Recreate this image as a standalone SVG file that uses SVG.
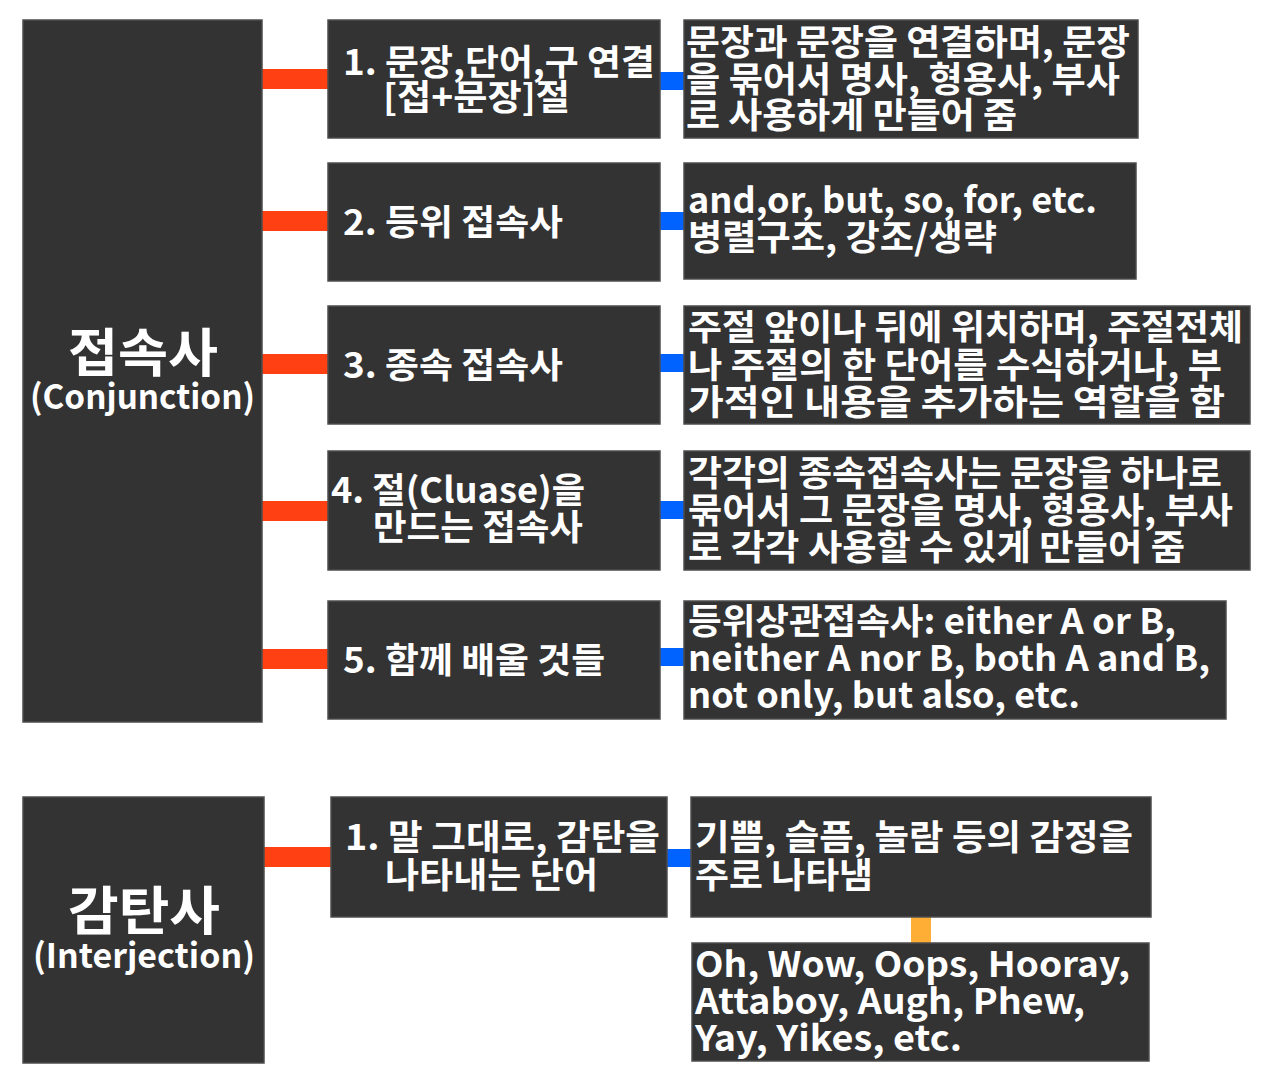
<svg xmlns="http://www.w3.org/2000/svg" width="1280" height="1091" viewBox="0 0 1280 1091">
<style>
.box{fill:#333333;stroke:#4d4d4d;stroke-width:1.5}
.red{fill:#ff4013}
.blue{fill:#0062ff}
.org{fill:#ffae35}
text{font-family:"Noto Sans CJK KR","Noto Sans",sans-serif;font-weight:700;fill:#ffffff}
.t{font-size:35px}
.h{font-size:52px}
.s{font-size:34px}
</style>
<rect width="1280" height="1091" fill="#ffffff"/>
<g id="connectors">
<rect class="red" x="262" y="69" width="66" height="20"/>
<rect class="red" x="262" y="211" width="66" height="20"/>
<rect class="red" x="262" y="354" width="66" height="20"/>
<rect class="red" x="262" y="501" width="66" height="20"/>
<rect class="red" x="262" y="649" width="66" height="20"/>
<rect class="blue" x="660" y="72" width="24" height="18"/>
<rect class="blue" x="660" y="212" width="24" height="18"/>
<rect class="blue" x="660" y="354" width="24" height="18"/>
<rect class="blue" x="660" y="501" width="24" height="18"/>
<rect class="blue" x="660" y="648" width="24" height="18"/>
<rect class="red" x="264" y="847" width="67" height="20"/>
<rect class="blue" x="667" y="849" width="24" height="18"/>
<rect class="org" x="911" y="917" width="20" height="26"/>
</g>
<g id="conjunction">
<rect class="box" x="23" y="20" width="239" height="702"/>
<text class="h" x="68" y="372" textLength="150" lengthAdjust="spacingAndGlyphs">접속사</text>
<text class="s" x="30" y="409" textLength="225" lengthAdjust="spacingAndGlyphs">(Conjunction)</text>
</g>
<g id="c1">
<rect class="box" x="328" y="20" width="332" height="118"/>
<text class="t" x="343" y="75" textLength="312" lengthAdjust="spacingAndGlyphs">1. 문장,단어,구 연결</text>
<text class="t" x="383" y="110" textLength="187" lengthAdjust="spacingAndGlyphs">[접+문장]절</text>
</g>
<g id="c1d">
<rect class="box" x="684" y="20" width="454" height="118"/>
<text class="t" x="686" y="55" textLength="444" lengthAdjust="spacingAndGlyphs">문장과 문장을 연결하며, 문장</text>
<text class="t" x="686" y="92" textLength="434" lengthAdjust="spacingAndGlyphs">을 묶어서 명사, 형용사, 부사</text>
<text class="t" x="686" y="128" textLength="331" lengthAdjust="spacingAndGlyphs">로 사용하게 만들어 줌</text>
</g>
<g id="c2">
<rect class="box" x="328" y="163" width="332" height="118"/>
<text class="t" x="343" y="235" textLength="220" lengthAdjust="spacingAndGlyphs">2. 등위 접속사</text>
</g>
<g id="c2d">
<rect class="box" x="684" y="163" width="452" height="116"/>
<text class="t" x="688" y="213" textLength="409" lengthAdjust="spacingAndGlyphs">and,or, but, so, for, etc.</text>
<text class="t" x="688" y="250" textLength="309" lengthAdjust="spacingAndGlyphs">병렬구조, 강조/생략</text>
</g>
<g id="c3">
<rect class="box" x="328" y="306" width="332" height="118"/>
<text class="t" x="343" y="378" textLength="220" lengthAdjust="spacingAndGlyphs">3. 종속 접속사</text>
</g>
<g id="c3d">
<rect class="box" x="684" y="306" width="566" height="118"/>
<text class="t" x="688" y="340" textLength="555" lengthAdjust="spacingAndGlyphs">주절 앞이나 뒤에 위치하며, 주절전체</text>
<text class="t" x="688" y="378" textLength="534" lengthAdjust="spacingAndGlyphs">나 주절의 한 단어를 수식하거나, 부</text>
<text class="t" x="688" y="415" textLength="537" lengthAdjust="spacingAndGlyphs">가적인 내용을 추가하는 역할을 함</text>
</g>
<g id="c4">
<rect class="box" x="328" y="451" width="332" height="119"/>
<text class="t" x="331" y="503" textLength="254" lengthAdjust="spacingAndGlyphs">4. 절(Cluase)을</text>
<text class="t" x="373" y="540" textLength="210" lengthAdjust="spacingAndGlyphs">만드는 접속사</text>
</g>
<g id="c4d">
<rect class="box" x="684" y="451" width="566" height="119"/>
<text class="t" x="688" y="486" textLength="534" lengthAdjust="spacingAndGlyphs">각각의 종속접속사는 문장을 하나로</text>
<text class="t" x="688" y="523" textLength="545" lengthAdjust="spacingAndGlyphs">묶어서 그 문장을 명사, 형용사, 부사</text>
<text class="t" x="688" y="560" textLength="497" lengthAdjust="spacingAndGlyphs">로 각각 사용할 수 있게 만들어 줌</text>
</g>
<g id="c5">
<rect class="box" x="328" y="601" width="332" height="118"/>
<text class="t" x="343" y="673" textLength="262" lengthAdjust="spacingAndGlyphs">5. 함께 배울 것들</text>
</g>
<g id="c5d">
<rect class="box" x="684" y="601" width="542" height="118"/>
<text class="t" x="688" y="634" textLength="488" lengthAdjust="spacingAndGlyphs">등위상관접속사: either A or B,</text>
<text class="t" x="688" y="671" textLength="522" lengthAdjust="spacingAndGlyphs">neither A nor B, both A and B,</text>
<text class="t" x="688" y="708" textLength="392" lengthAdjust="spacingAndGlyphs">not only, but also, etc.</text>
</g>
<g id="interjection">
<rect class="box" x="23" y="797" width="241" height="266"/>
<text class="h" x="68" y="930" textLength="152" lengthAdjust="spacingAndGlyphs">감탄사</text>
<text class="s" x="33" y="968" textLength="222" lengthAdjust="spacingAndGlyphs">(Interjection)</text>
</g>
<g id="i1">
<rect class="box" x="331" y="797" width="336" height="120"/>
<text class="t" x="345" y="850" textLength="315" lengthAdjust="spacingAndGlyphs">1. 말 그대로, 감탄을</text>
<text class="t" x="385" y="888" textLength="213" lengthAdjust="spacingAndGlyphs">나타내는 단어</text>
</g>
<g id="i1d">
<rect class="box" x="691" y="797" width="460" height="120"/>
<text class="t" x="695" y="850" textLength="438" lengthAdjust="spacingAndGlyphs">기쁨, 슬픔, 놀람 등의 감정을</text>
<text class="t" x="695" y="888" textLength="178" lengthAdjust="spacingAndGlyphs">주로 나타냄</text>
</g>
<g id="i1e">
<rect class="box" x="692" y="943" width="457" height="118"/>
<text class="t" x="695" y="977" textLength="435" lengthAdjust="spacingAndGlyphs">Oh, Wow, Oops, Hooray,</text>
<text class="t" x="695" y="1014" textLength="390" lengthAdjust="spacingAndGlyphs">Attaboy, Augh, Phew,</text>
<text class="t" x="695" y="1051" textLength="267" lengthAdjust="spacingAndGlyphs">Yay, Yikes, etc.</text>
</g>
</svg>
